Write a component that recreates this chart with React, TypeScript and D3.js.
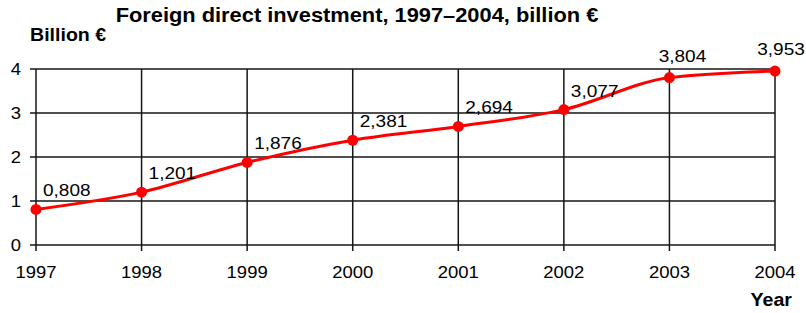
import React, { useEffect, useRef } from "react"
import * as d3 from "d3"

// data
const years: number[] = [1997, 1998, 1999, 2000, 2001, 2002, 2003, 2004]
const investment: number[] = [0.808, 1.201, 1.876, 2.381, 2.694, 3.077, 3.804, 3.953]
const valueLabels: string[] = ["0,808", "1,201", "1,876", "2,381", "2,694", "3,077", "3,804", "3,953"]
const yTicks: number[] = [0, 1, 2, 3, 4]

const chartTitle = "Foreign direct investment, 1997\u20132004, billion \u20ac"
const yLabel = "Billion \u20ac"
const xLabel = "Year"

const App: React.FC = () => {
	const width = 806
	const height = 313
	const margin = { top: 69, right: 31, bottom: 68, left: 36 }
	const innerWidth = width - margin.left - margin.right
	const innerHeight = height - margin.top - margin.bottom
	const ref = useRef<SVGSVGElement>(null)

	useEffect(() => {
		const svg = d3.select(ref.current)
		svg.selectAll("*").remove()

		const red = "#ff0000"
		const gridColor = "#151515"
		const font = "'Liberation Sans', Arial, sans-serif"
		const stretch = 1.12

		const x = d3
			.scaleLinear()
			.domain([years[0], years[years.length - 1]])
			.range([0, innerWidth])
		const y = d3.scaleLinear().domain([0, 4]).range([innerHeight, 0])

		const g = svg
			.append("g")
			.attr("transform", `translate(${margin.left},${margin.top})`)

		/* text is drawn a little wider than the font, like the source image */
		const label = (
			parent: any,
			px: number,
			py: number,
			txt: string,
			size: number,
			anchor: string,
			bold = false
		) =>
			parent
				.append("text")
				.attr("transform", `translate(${px},${py}) scale(${stretch},1)`)
				.attr("text-anchor", anchor)
				.style("font-family", font)
				.style("font-size", size + "px")
				.style("font-weight", bold ? "bold" : "normal")
				.attr("fill", "#000")
				.text(txt)

		/* ******************** GRID ******************** */
		g.append("g")
			.selectAll("line")
			.data(yTicks)
			.join("line")
			.attr("x1", -6)
			.attr("x2", innerWidth)
			.attr("y1", (d) => y(d))
			.attr("y2", (d) => y(d))
			.attr("stroke", gridColor)
			.attr("stroke-width", 1.5)

		g.append("g")
			.selectAll("line")
			.data(years)
			.join("line")
			.attr("x1", (d) => x(d))
			.attr("x2", (d) => x(d))
			.attr("y1", 0)
			.attr("y2", innerHeight + 6)
			.attr("stroke", gridColor)
			.attr("stroke-width", 1.5)

		/* ******************** AXIS LABELS ******************** */
		yTicks.forEach((d) => label(g, -15, y(d) + 6, String(d), 16.5, "end"))
		years.forEach((d) => label(g, x(d), innerHeight + 33, String(d), 16.5, "middle"))

		label(svg, 30, 41, yLabel, 17.5, "start", true)
		label(svg, 792, 306, xLabel, 17.5, "end", true)
		label(svg, 357, 22, chartTitle, 19.5, "middle", true)

		/* ******************** LINE ******************** */
		const points: [number, number][] = years.map((d, i) => [d, investment[i]])
		const line = d3
			.line<[number, number]>()
			.x((d) => x(d[0]))
			.y((d) => y(d[1]))
			.curve(d3.curveMonotoneX)

		g.append("path")
			.datum(points)
			.attr("fill", "none")
			.attr("stroke", red)
			.attr("stroke-width", 3)
			.attr("d", line)

		g.append("g")
			.selectAll("circle")
			.data(points)
			.join("circle")
			.attr("cx", (d) => x(d[0]))
			.attr("cy", (d) => y(d[1]))
			.attr("r", 5.5)
			.attr("fill", red)

		/* value labels: right of the point, the last two centred above */
		points.forEach((d, i) => {
			const top = i >= points.length - 2
			const last = i === points.length - 1
			label(
				g,
				x(d[0]) + (top ? (last ? 6 : 13) : 7),
				y(d[1]) - (top ? 16 : 13),
				valueLabels[i],
				17,
				top ? "middle" : "start"
			)
		})
	}, [])

	return (
		<div style={{ position: "absolute", left: 0, top: 0 }}>
			<svg ref={ref} width={width} height={height} style={{ display: "block", background: "#fff" }} />
		</div>
	)
}

export default App
